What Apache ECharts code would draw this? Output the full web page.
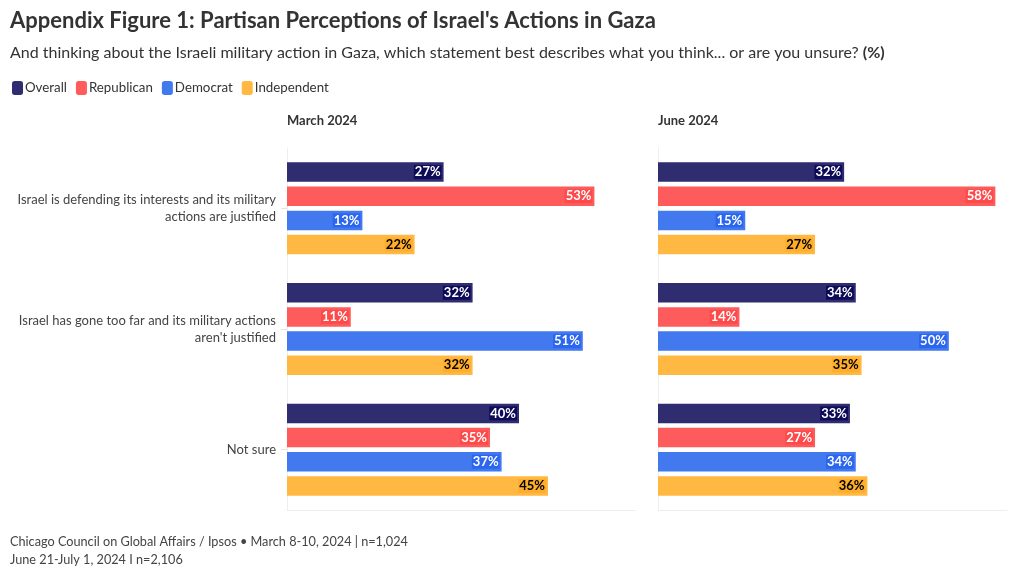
<!DOCTYPE html>
<html><head><meta charset="utf-8">
<script src="https://cdn.jsdelivr.net/npm/echarts@6/dist/echarts.min.js"></script>
<style>html,body{margin:0;padding:0;background:#fff}#c{width:1020px;height:579px}</style>
</head><body><div id="c"></div>
<script>
const categories = [
  "Israel is defending its interests and its military\nactions are justified",
  "Israel has gone too far and its military actions\naren't justified",
  "Not sure"
];
const groups = ["Overall", "Republican", "Democrat", "Independent"];
const periods = ["March 2024", "June 2024"];
const marchOverall = [27, 32, 40];
const marchRepublican = [53, 11, 35];
const marchDemocrat = [13, 51, 37];
const marchIndependent = [22, 32, 45];
const juneOverall = [32, 34, 33];
const juneRepublican = [58, 14, 27];
const juneDemocrat = [15, 50, 34];
const juneIndependent = [27, 35, 36];

const FONT = "Lato, 'Source Sans Pro', 'Noto Sans', sans-serif";
const legendColors = ["#0b0b52", "#f03c3c", "#1f5ef0", "#ffaa1f"];
const barColors = ["#2f2d70", "#fe5c5c", "#4379ef", "#ffb943"];
const labelBg = ["#0e0c58", "#fd4a4a", "#2b66ef", "#ffae2c"];
const labelColor = ["#fff", "#fff", "#fff", "#000"];

const data = [
  [marchOverall, marchRepublican, marchDemocrat, marchIndependent],
  [juneOverall, juneRepublican, juneDemocrat, juneIndependent]
];

const series = [];
for (let p = 0; p < 2; p++) {
  for (let g = 0; g < 4; g++) {
    series.push({
      type: 'bar', name: groups[g],
      xAxisIndex: p, yAxisIndex: p,
      data: data[p][g],
      color: legendColors[g],
      itemStyle: { color: barColors[g] },
      barWidth: 19.5, barGap: '24%', barCategoryGap: '23%',
      label: {
        show: true, position: 'insideRight', distance: 2,
        formatter: '{c}%', fontFamily: FONT, fontWeight: 'bold', fontSize: 13,
        color: labelColor[g], backgroundColor: labelBg[g], padding: [1, 1, 0, 1]
      },
      emphasis: { disabled: true }
    });
  }
}

const grids = [
  { left: 287, top: 148, width: 348, height: 362 },
  { left: 658, top: 148, width: 349, height: 362 }
];

const option = {
  animation: false,
  textStyle: { fontFamily: FONT },
  title: [
    { text: "Appendix Figure 1: Partisan Perceptions of Israel's Actions in Gaza", left: 10, top: 10, padding: 0,
      textStyle: { fontFamily: FONT, fontSize: 22, fontWeight: 'bold', color: '#333' } },
    { text: "{n|And thinking about the Israeli military action in Gaza, which statement best describes what you think... or are you unsure? }{b|(%)}",
      left: 10, top: 45, padding: 0,
      textStyle: { fontWeight: 'normal', rich: { n: { fontFamily: FONT, fontSize: 16, fontWeight: 'normal', color: '#333' }, b: { fontFamily: FONT, fontSize: 16, fontWeight: 'bold', color: '#333' } } } },
    { text: periods[0], left: 287, top: 114, padding: 0, textStyle: { fontFamily: FONT, fontSize: 13, fontWeight: 'bold', color: '#333' } },
    { text: periods[1], left: 658, top: 114, padding: 0, textStyle: { fontFamily: FONT, fontSize: 13, fontWeight: 'bold', color: '#333' } },
    { text: "Chicago Council on Global Affairs / Ipsos • March 8-10, 2024 | n=1,024\nJune 21-July 1, 2024 I n=2,106",
      left: 10, top: 533, padding: 0, textStyle: { fontFamily: FONT, fontSize: 12.7, fontWeight: 'normal', color: '#444', lineHeight: 18 } }
  ],
  legend: {
    data: groups, left: 7, top: 76, icon: 'roundRect', itemWidth: 11, itemHeight: 14, itemGap: 9,
    textStyle: { fontFamily: FONT, fontSize: 13.3, color: '#333', padding: [0, 0, 0, -3] }
  },
  grid: grids,
  xAxis: grids.map((_, i) => ({
    type: 'value', gridIndex: i, min: 0, max: 60,
    axisLabel: { show: false }, splitLine: { show: false }, axisTick: { show: false },
    axisLine: { show: true, lineStyle: { color: '#eeeeee', width: 1 } }
  })),
  yAxis: grids.map((_, i) => ({
    type: 'category', gridIndex: i, data: categories, inverse: true,
    axisLine: { show: true, lineStyle: { color: '#eeeeee' } },
    axisTick: { show: i === 0, alignWithLabel: true, length: 6, lineStyle: { color: '#e4e4e4' } },
    axisLabel: { show: i === 0, fontFamily: FONT, fontSize: 13, color: '#444', lineHeight: 17, align: 'right', margin: 11 }
  })),
  series: series
};
const chart = echarts.init(document.getElementById('c'), null, { renderer: 'canvas' });
chart.setOption(option);
</script></body></html>
